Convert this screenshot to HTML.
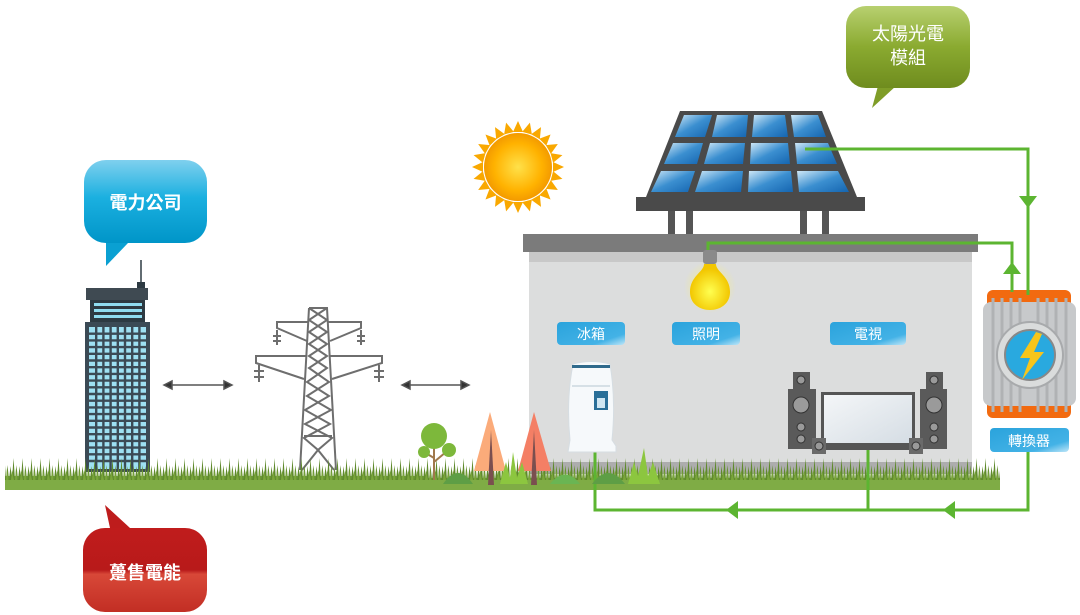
<!DOCTYPE html>
<html><head><meta charset="utf-8"><style>
html,body{margin:0;padding:0;background:#fff;width:1080px;height:615px;overflow:hidden}
text{font-family:"Liberation Sans","Noto Sans CJK TC",sans-serif}
</style></head><body>
<svg width="1080" height="615" viewBox="0 0 1080 615" xmlns="http://www.w3.org/2000/svg">
<defs>
<pattern id="grass" x="0" y="0" width="9" height="24" patternUnits="userSpaceOnUse">
<path d="M0 24 L1.5 10 L3 24 L4.5 2 L6 24 L7.5 9 L9 24Z" fill="#5f8a2c"/>
<path d="M2 24 L3 14 L5 24Z M6 24 L7 12 L8.5 24Z" fill="#7aa53a"/>
</pattern>
<linearGradient id="cell" x1="0" y1="0" x2="1" y2="1"><stop offset="0" stop-color="#cfe8f7"/><stop offset="0.5" stop-color="#3b8fd0"/><stop offset="1" stop-color="#1565b0"/></linearGradient>
<radialGradient id="sun"><stop offset="0" stop-color="#ffe14a"/><stop offset="0.7" stop-color="#ffb200"/><stop offset="1" stop-color="#f39a00"/></radialGradient>
<radialGradient id="bulb" cx="0.5" cy="0.6"><stop offset="0" stop-color="#ffff50"/><stop offset="1" stop-color="#f2c600"/></radialGradient>
<radialGradient id="glow"><stop offset="0" stop-color="#fff36a" stop-opacity="0.8"/><stop offset="1" stop-color="#fff36a" stop-opacity="0"/></radialGradient>
<linearGradient id="lab" x1="0" y1="0" x2="1" y2="1"><stop offset="0" stop-color="#2aa3dc"/><stop offset="0.75" stop-color="#43b2e6"/><stop offset="1" stop-color="#bfe6f8"/></linearGradient>
<linearGradient id="blueb" x1="0" y1="0" x2="0" y2="1"><stop offset="0" stop-color="#7fd0ee"/><stop offset="0.45" stop-color="#1bb0e0"/><stop offset="1" stop-color="#0095c8"/></linearGradient>
<linearGradient id="redb" x1="0" y1="0" x2="0" y2="1"><stop offset="0" stop-color="#c01c1c"/><stop offset="0.5" stop-color="#b81a1a"/><stop offset="0.55" stop-color="#d84838"/><stop offset="1" stop-color="#c22e24"/></linearGradient>
<linearGradient id="greenb" x1="0" y1="0" x2="0" y2="1"><stop offset="0" stop-color="#b8d070"/><stop offset="0.5" stop-color="#8aaa30"/><stop offset="1" stop-color="#6f8c1e"/></linearGradient>
<linearGradient id="tv" x1="0" y1="0" x2="1" y2="1"><stop offset="0" stop-color="#f4f6f8"/><stop offset="1" stop-color="#d5dde4"/></linearGradient>
</defs>

<!-- bubbles -->
<path d="M106 243 L128 243 L106 266 Z" fill="#0aa0d2"/>
<rect x="84" y="160" width="123" height="83" rx="22" fill="url(#blueb)"/>
<text x="145.5" y="209" font-size="18" font-weight="bold" fill="#fff" text-anchor="middle">電力公司</text>

<path d="M105 505 L130 528 L110 528 Z" fill="#be1c1c"/>
<rect x="83" y="528" width="124" height="84" rx="22" fill="url(#redb)"/>
<text x="145" y="579" font-size="18" font-weight="bold" fill="#fff" text-anchor="middle">躉售電能</text>

<path d="M872 108 L878 86 L896 86 Z" fill="#7f9d28"/>
<rect x="846" y="6" width="124" height="82" rx="20" fill="url(#greenb)"/>
<text x="908" y="40" font-size="18" fill="#fff" text-anchor="middle">太陽光電</text>
<text x="908" y="64" font-size="18" fill="#fff" text-anchor="middle">模組</text>

<!-- ground left -->
<rect x="5" y="476" width="420" height="14" fill="#7fac45"/>
<rect x="425" y="478" width="575" height="12" fill="#7fac45"/>

<!-- building -->
<line x1="141" y1="260" x2="141" y2="284" stroke="#2d3a42" stroke-width="1.5"/>
<rect x="137" y="282" width="8" height="7" fill="#2d3a42"/>
<rect x="86" y="288" width="62" height="12" fill="#3f4a52"/>
<rect x="90" y="300" width="55" height="22" fill="#2d3a42"/>
<rect x="94" y="303" width="48" height="3" fill="#8fdcf0"/>
<rect x="94" y="309" width="48" height="3" fill="#8fdcf0"/>
<rect x="94" y="315" width="48" height="3" fill="#8fdcf0"/>
<rect x="85" y="322" width="65" height="150" fill="#3b4a55"/>
<rect x="89" y="327" width="57" height="142" fill="#9ee0f2"/>
<g stroke="#3b4a55" stroke-width="2.4">
<path d="M96.2 327V469M103.4 327V469M110.6 327V469M117.8 327V469M125 327V469M132.2 327V469M139.4 327V469"/>
<path d="M89 333.7H146M89 340.4H146M89 347.1H146M89 353.8H146M89 360.5H146M89 367.2H146M89 373.9H146M89 380.6H146M89 387.3H146M89 394H146M89 400.7H146M89 407.4H146M89 414.1H146M89 420.8H146M89 427.5H146M89 434.2H146M89 440.9H146M89 447.6H146M89 454.3H146M89 461H146"/>
</g>

<!-- arrows -->
<g stroke="#555" stroke-width="1.5" fill="#333">
<line x1="168" y1="385" x2="228" y2="385"/><path d="M164 385 L172 381 L172 389Z"/><path d="M232 385 L224 381 L224 389Z"/>
<line x1="406" y1="385" x2="465" y2="385"/><path d="M402 385 L410 381 L410 389Z"/><path d="M469 385 L461 381 L461 389Z"/>
</g>

<!-- tower -->
<g stroke="#6e6e6e" stroke-width="2" fill="none">
<path d="M309 308 L327 308 L336 470 M309 308 L300 470"/>
<path d="M309 308 L327 320 L309 332 L327 344 L309 356 L327 368 L307 382 L329 396 L305 410 L330 424 L304 438 L318 450 L334 470 M327 308 L309 320 L327 332 L309 344 L327 356 L309 368 L329 382 L307 396 L331 410 L305 424 L332 438 L318 450 L302 470"/>
<path d="M304 436 L332 436"/>
<path d="M309 322 L277 322 L277 328 L307 341 M327 322 L361 322 L361 328 L330 341"/>
<path d="M307 356 L256 356 L256 363 L304 379 M329 356 L382 356 L382 363 L332 379"/>
<path d="M277 330V345M273 336H281M273 341H281M361 330V345M357 336H365M357 341H365M259 365V382M254 371H264M254 377H264M379 365V382M374 371H384M374 377H384"/>
</g>

<!-- sun -->
<g transform="translate(518,167)">
<g fill="#f9a800">
<path d="M0 -46 L5 -35 L-5 -35Z"/><path d="M0 -46 L5 -35 L-5 -35Z" transform="rotate(15)"/><path d="M0 -46 L5 -35 L-5 -35Z" transform="rotate(30)"/><path d="M0 -46 L5 -35 L-5 -35Z" transform="rotate(45)"/><path d="M0 -46 L5 -35 L-5 -35Z" transform="rotate(60)"/><path d="M0 -46 L5 -35 L-5 -35Z" transform="rotate(75)"/><path d="M0 -46 L5 -35 L-5 -35Z" transform="rotate(90)"/><path d="M0 -46 L5 -35 L-5 -35Z" transform="rotate(105)"/><path d="M0 -46 L5 -35 L-5 -35Z" transform="rotate(120)"/><path d="M0 -46 L5 -35 L-5 -35Z" transform="rotate(135)"/><path d="M0 -46 L5 -35 L-5 -35Z" transform="rotate(150)"/><path d="M0 -46 L5 -35 L-5 -35Z" transform="rotate(165)"/><path d="M0 -46 L5 -35 L-5 -35Z" transform="rotate(180)"/><path d="M0 -46 L5 -35 L-5 -35Z" transform="rotate(195)"/><path d="M0 -46 L5 -35 L-5 -35Z" transform="rotate(210)"/><path d="M0 -46 L5 -35 L-5 -35Z" transform="rotate(225)"/><path d="M0 -46 L5 -35 L-5 -35Z" transform="rotate(240)"/><path d="M0 -46 L5 -35 L-5 -35Z" transform="rotate(255)"/><path d="M0 -46 L5 -35 L-5 -35Z" transform="rotate(270)"/><path d="M0 -46 L5 -35 L-5 -35Z" transform="rotate(285)"/><path d="M0 -46 L5 -35 L-5 -35Z" transform="rotate(300)"/><path d="M0 -46 L5 -35 L-5 -35Z" transform="rotate(315)"/><path d="M0 -46 L5 -35 L-5 -35Z" transform="rotate(330)"/><path d="M0 -46 L5 -35 L-5 -35Z" transform="rotate(345)"/>
</g>
<circle r="34" fill="url(#sun)"/>
</g>

<!-- solar panel -->
<rect x="668" y="211" width="7" height="25" fill="#555"/><rect x="686" y="211" width="7" height="25" fill="#555"/>
<rect x="800" y="211" width="7" height="25" fill="#555"/><rect x="822" y="211" width="7" height="25" fill="#555"/>
<path d="M680 111 L822 111 L857 197 L646 197 Z" fill="#4a4a4a"/>
<rect x="636" y="197" width="229" height="14" fill="#4a4a4a"/>
<g fill="url(#cell)">
<path d="M684 115 L712 115 L705 137 L675 137Z"/><path d="M717 115 L748 115 L746 137 L712 137Z"/><path d="M754 115 L785 115 L788 137 L752 137Z"/><path d="M791 115 L818 115 L826 137 L794 137Z"/>
<path d="M673 143 L703 143 L697 164 L664 164Z"/><path d="M710 143 L745 143 L743 164 L704 164Z"/><path d="M751 143 L788 143 L790 164 L750 164Z"/><path d="M795 143 L828 143 L837 164 L797 164Z"/>
<path d="M661 171 L695 171 L688 192 L651 192Z"/><path d="M702 171 L743 171 L741 192 L695 192Z"/><path d="M749 171 L791 171 L793 192 L748 192Z"/><path d="M797 171 L838 171 L849 192 L799 192Z"/>
</g>

<!-- house -->
<rect x="529" y="250" width="443" height="220" fill="#dcdddd"/>
<rect x="529" y="252" width="443" height="10" fill="#c8c8c8"/>
<rect x="523" y="234" width="455" height="18" fill="#7b7b7b"/>
<rect x="529" y="462" width="443" height="12" fill="#adadad"/>

<!-- grass band -->
<rect x="5" y="456" width="995" height="24" fill="url(#grass)"/>

<!-- inverter -->
<rect x="987" y="290" width="84" height="128" rx="6" fill="#f26a10"/>
<rect x="983" y="302" width="93" height="104" rx="8" fill="#c7c9cb"/>
<g stroke="#b0b2b4" stroke-width="3"><path d="M993 298V412M1002 298V412M1011 298V412M1020 298V412M1038 298V412M1047 298V412M1056 298V412M1066 298V412"/></g>
<circle cx="1030" cy="355" r="33" fill="#dadcdc" stroke="#a8aaac" stroke-width="2"/>
<circle cx="1030" cy="355" r="25" fill="#29a9df" stroke="#888" stroke-width="2"/>
<path d="M1036 332 L1020 358 L1030 358 L1022 380 L1044 352 L1034 352 L1042 334 Z" fill="#f7c51b"/>

<!-- green lines -->
<g stroke="#5cb531" stroke-width="3" fill="none">
<path d="M805 149 L1028 149 L1028 295"/>
<path d="M1012 292 L1012 243 L708 243 L708 250"/>
<path d="M1028 450 L1028 510 L595 510 L595 450"/>
<path d="M868 448 L868 510"/>
</g>
<g fill="#5cb531">
<path d="M1019 196 L1037 196 L1028 208Z"/>
<path d="M1003 274 L1021 274 L1012 262Z"/>
<path d="M955 501 L955 519 L943 510Z"/>
<path d="M738 501 L738 519 L726 510Z"/>
</g>

<!-- bulb -->
<circle cx="710" cy="287" r="26" fill="url(#glow)"/>
<rect x="703" y="250" width="14" height="14" rx="3" fill="#8a8a8a"/>
<path d="M704 264 C704 272 690 276 690 292 C690 304 700 310 710 310 C720 310 730 304 730 292 C730 276 716 272 716 264Z" fill="url(#bulb)"/>

<!-- labels -->
<rect x="557" y="322" width="68" height="23" rx="4" fill="url(#lab)"/><text x="591" y="339" font-size="14" fill="#fff" text-anchor="middle">冰箱</text>
<rect x="672" y="322" width="68" height="23" rx="4" fill="url(#lab)"/><text x="706" y="339" font-size="14" fill="#fff" text-anchor="middle">照明</text>
<rect x="830" y="322" width="76" height="23" rx="4" fill="url(#lab)"/><text x="868" y="339" font-size="14" fill="#fff" text-anchor="middle">電視</text>
<rect x="990" y="428" width="79" height="24" rx="4" fill="url(#lab)"/><text x="1029" y="446" font-size="14" fill="#fff" text-anchor="middle">轉換器</text>

<!-- fridge -->
<path d="M573 364 Q591 359 610 364 Q616 400 612 440 L616 446 L616 452 L568 452 L570 440 Q566 400 573 364Z" fill="#f6f9fb" stroke="#d6dde2"/>
<rect x="572" y="365" width="38" height="3" fill="#2f6a8c"/>
<line x1="572" y1="386" x2="610" y2="386" stroke="#b7c6d0"/>
<rect x="594" y="391" width="14" height="19" fill="#2a6f98"/><rect x="597" y="398" width="8" height="10" fill="#cfe6f2"/>

<!-- tv set -->
<g fill="#5a5a5a">
<rect x="793" y="372" width="17" height="17"/><rect x="788" y="389" width="28" height="60"/>
<rect x="926" y="372" width="17" height="17"/><rect x="920" y="389" width="27" height="60"/>
</g>
<g fill="#9a9a9a" stroke="#333">
<circle cx="801" cy="380" r="4"/><circle cx="801" cy="405" r="8"/><circle cx="801" cy="427" r="4"/><circle cx="801" cy="439" r="4"/>
<circle cx="934" cy="380" r="4"/><circle cx="934" cy="405" r="8"/><circle cx="934" cy="427" r="4"/><circle cx="934" cy="439" r="4"/>
</g>
<rect x="821" y="392" width="94" height="58" fill="#555"/>
<rect x="824" y="395" width="88" height="48" fill="url(#tv)"/>
<rect x="812" y="438" width="14" height="16" fill="#6a6a6a"/><circle cx="819" cy="446" r="4" fill="#999" stroke="#333"/>
<rect x="909" y="438" width="14" height="16" fill="#6a6a6a"/><circle cx="916" cy="446" r="4" fill="#999" stroke="#333"/>

<!-- trees & bushes -->
<line x1="434" y1="440" x2="434" y2="480" stroke="#a0784c" stroke-width="2"/>
<path d="M434 458 L424 452 M434 462 L446 452" stroke="#a0784c" stroke-width="2"/>
<circle cx="434" cy="436" r="13" fill="#7db83b"/>
<circle cx="424" cy="452" r="6" fill="#7db83b"/><circle cx="449" cy="450" r="7" fill="#7db83b"/>
<path d="M490 412 L474 471 L506 471Z" fill="#fbab7a"/>
<path d="M491 430 L488 485 L494 485Z" fill="#7a4f4f"/>
<path d="M534 412 L518 471 L551 471Z" fill="#f47f65"/>
<path d="M534 430 L531 485 L537 485Z" fill="#7a4f4f"/>
<path d="M443 484 Q458 462 473 484Z" fill="#5e9e45"/>
<path d="M550 484 Q565 465 580 484Z" fill="#6ab553"/>
<path d="M592 484 Q608 462 625 484Z" fill="#5e9e45"/>
<path d="M500 484 L506 462 L510 478 L513 452 L517 478 L522 462 L528 484Z" fill="#8cc63f"/>
<path d="M628 484 L634 462 L638 476 L644 448 L648 476 L653 462 L660 484Z" fill="#8cc63f"/>
</svg>
</body></html>
